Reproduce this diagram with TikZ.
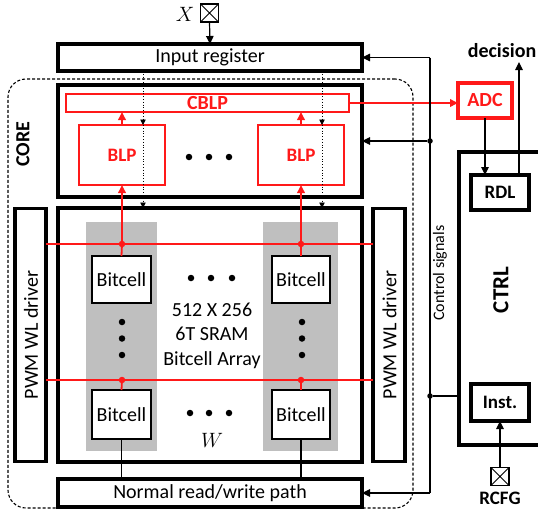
\documentclass[tikz,border=0pt]{standalone}
\usepackage{fontspec}
\setmainfont{Carlito}
\usetikzlibrary{arrows.meta}
\definecolor{myred}{RGB}{255,25,25}
\definecolor{colgrey}{RGB}{191,191,191}
\begin{document}
\begin{tikzpicture}[x=1pt,y=-1pt,
  every node/.style={font=\fontsize{20}{24}\selectfont, inner sep=0pt, outer sep=0pt},
  bf/.style={font=\bfseries\fontsize{#1}{24}\selectfont},
  thickbox/.style={draw, line width=3.3pt},
  redbox/.style={draw=myred, line width=1.7pt, text=myred},
  cellbox/.style={draw, line width=1.5pt, fill=white},
  greycol/.style={fill=colgrey, draw=none},
  conn/.style={line width=1.2pt},
  arr/.style={-{Triangle[length=8pt,width=7.5pt]}},
  sarr/.style={-{Triangle[length=5.5pt,width=5.5pt]}},
  redline/.style={draw=myred, line width=1.8pt},
  dotline/.style={dotted, line width=0.8pt},
  bdot/.style={circle, fill=black, minimum size=6.5pt},
  rdot/.style={circle, fill=myred, minimum size=6.5pt},
  jdot/.style={circle, fill=black, minimum size=5.5pt},
  padbox/.style={draw, line width=1.2pt, minimum size=18pt},
]
\useasboundingbox (0,0) rectangle (538,514);

% core dashed region
\node[draw, densely dashed, line width=1.1pt, rounded corners=18pt,
      minimum width=405pt, minimum height=429pt] (core) at (210.5,293.5) {};
\node[bf=20, rotate=90] (corelab) at (23,144) {CORE};

% input pad
\node[padbox] (xin) at (209.5,13) {};
\draw[line width=1pt] (xin.north west) -- (xin.south east) (xin.north east) -- (xin.south west);
\node (xlab) at (185,14) {$X$};

% input register
\node[thickbox, minimum width=304pt, minimum height=27pt] (inreg) at (210,57.5) {Input register};
\draw[conn, arr] (xin.south) -- (inreg.north);

% top BLP block
\node[thickbox, minimum width=304pt, minimum height=112pt] (corebox) at (210,141) {};
\node[redbox, bf=20, minimum width=283pt, minimum height=18pt] (cblp) at (207.5,103) {CBLP};
\node[redbox, bf=19, minimum width=86pt, minimum height=60pt] (blp1) at (122,155) {BLP};
\node[redbox, bf=19, minimum width=86pt, minimum height=60pt] (blp2) at (301,155) {BLP};
\node[bdot] (tdA) at (189,157) {};
\node[bdot] (tdB) at (209,157) {};
\node[bdot] (tdC) at (229,157) {};
\draw[redline, arr] (blp1.north) -- (blp1.north |- cblp.south);
\draw[redline, arr] (blp2.north) -- (blp2.north |- cblp.south);

% array block
\node[thickbox, minimum width=304pt, minimum height=254pt] (array) at (210,335) {};
\node[greycol, minimum width=71pt, minimum height=229pt] (col1) at (121.5,336.5) {};
\node[greycol, minimum width=75pt, minimum height=229pt] (col2) at (300.5,336.5) {};

% PWM WL drivers
\node[thickbox, minimum width=31pt, minimum height=253pt] (pwmL) at (30.5,335) {};
\node[rotate=90] (pwmLt) at (31,335) {PWM WL driver};
\node[thickbox, minimum width=32pt, minimum height=253pt] (pwmR) at (389,335) {};
\node[rotate=90] (pwmRt) at (389.5,335) {PWM WL driver};

% red word-line junctions
\coordinate (rd1) at (122,244);
\coordinate (rd2) at (301,244);
\coordinate (rd3) at (122,380);
\coordinate (rd4) at (301,380);

% bitcells
\node[cellbox, minimum width=59pt, minimum height=47pt] (bit1) at (121.5,279.5) {Bitcell};
\node[cellbox, minimum width=58pt, minimum height=47pt] (bit2) at (301,279.5) {Bitcell};
\node[cellbox, minimum width=59pt, minimum height=49pt] (bit3) at (121.5,414.5) {Bitcell};
\node[cellbox, minimum width=58pt, minimum height=49pt] (bit4) at (301,414.5) {Bitcell};

% word lines and bit-line connections
\draw[redline] (pwmL.east |- rd1) -- (pwmR.west |- rd1);
\draw[redline] (pwmL.east |- rd3) -- (pwmR.west |- rd3);
\draw[redline] (rd1) -- (bit1.north);
\draw[redline] (rd2) -- (bit2.north);
\draw[redline] (rd3) -- (bit3.north);
\draw[redline] (rd4) -- (bit4.north);
\draw[redline, arr] (rd1) -- (rd1 |- blp1.south);
\draw[redline, arr] (rd2) -- (rd2 |- blp2.south);
\node[rdot] (rdA) at (rd1) {};
\node[rdot] (rdB) at (rd2) {};
\node[rdot] (rdC) at (rd3) {};
\node[rdot] (rdD) at (rd4) {};

% ellipsis dots in array
\node[bdot] (hA1) at (191,278) {};
\node[bdot] (hA2) at (211,278) {};
\node[bdot] (hA3) at (232,278) {};
\node[bdot] (hB1) at (190,413) {};
\node[bdot] (hB2) at (209,413) {};
\node[bdot] (hB3) at (229,413) {};
\node[bdot] (vA1) at (122,322) {};
\node[bdot] (vA2) at (122,338.5) {};
\node[bdot] (vA3) at (122,355) {};
\node[bdot] (vB1) at (302,322) {};
\node[bdot] (vB2) at (302,338.5) {};
\node[bdot] (vB3) at (302,355) {};
\node[align=center, font=\fontsize{20}{24.5}\selectfont] (arrtext) at (212,335.5) {512 X 256\\6T SRAM\\Bitcell Array};
\node (wlab) at (212,440) {$W$};

% dotted input lines
\coordinate (dl1) at (143,125);
\coordinate (dl2) at (322,125);
\draw[dotline, sarr] (inreg.south -| dl1) -- (dl1);
\draw[dotline, sarr] (dl1) -- (dl1 |- array.north);
\draw[dotline, sarr] (inreg.south -| dl2) -- (dl2);
\draw[dotline, sarr] (dl2) -- (dl2 |- array.north);

% normal read/write path
\node[thickbox, minimum width=304pt, minimum height=28pt] (rw) at (210,493) {Normal read/write path};
\draw[conn] (bit3.south) -- (bit3.south |- rw.north);
\draw[conn] (bit4.south) -- (bit4.south |- rw.north);

% ADC, CTRL, RDL, Inst
\node[draw=myred, line width=3.3pt, text=myred, bf=20, minimum width=54pt, minimum height=35pt] (adc) at (485,100.5) {ADC};
\draw[redline, arr] (cblp.east) -- (adc.west |- cblp.east);
\draw[line width=3.3pt] (545,152) -- (459,152) -- (459,445) -- (545,445);
\coordinate (ctrlin) at (459,396);
\node[bf=23, rotate=90] (ctrllab) at (501,290) {CTRL};
\node[thickbox, bf=19, minimum width=58pt, minimum height=35pt] (rdl) at (500,192.5) {RDL};
\node[thickbox, bf=19, minimum width=58pt, minimum height=37pt] (inst) at (500,402.5) {Inst.};
\draw[conn, arr] (adc.south) -- (adc.south |- rdl.north);
\coordinate (dec) at (519,62);
\draw[conn, arr] (dec |- rdl.north) -- (dec);
\node[bf=20] (declab) at (502,51) {decision};

% RCFG pad
\node[padbox] (rcfg) at (500,476.5) {};
\draw[line width=1pt] (rcfg.north west) -- (rcfg.south east) (rcfg.north east) -- (rcfg.south west);
\draw[conn, arr] (rcfg.north) -- (inst.south);
\node[bf=19] (rcfglab) at (500,498) {RCFG};

% control signals bus
\coordinate (ct) at (430,57.5);
\coordinate (cb) at (430,493);
\draw[conn] (ct) -- (cb);
\draw[conn, arr] (ct) -- (inreg.east);
\draw[conn, arr] (cb) -- (rw.east);
\node[jdot] (j1) at (430,141) {};
\node[jdot] (j2) at (430,396) {};
\draw[conn, arr] (j1) -- (corebox.east);
\draw[conn] (j2) -- (ctrlin);
\node[rotate=90, font=\fontsize{16}{19}\selectfont] (ctllab) at (440,273) {Control signals};
\end{tikzpicture}
\end{document}
